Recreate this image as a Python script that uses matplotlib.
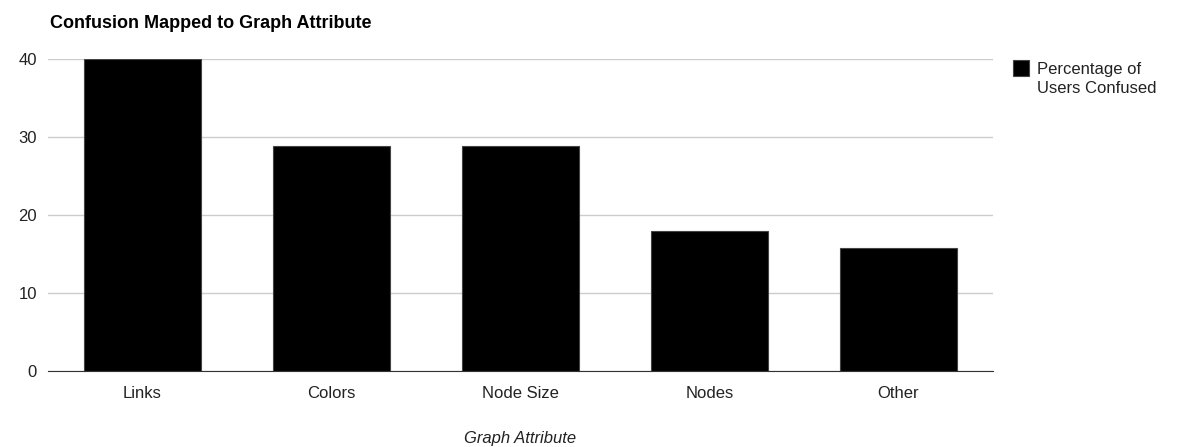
import matplotlib.pyplot as plt
from matplotlib.patches import Rectangle
import numpy as np

plt.rcParams['font.family'] = ['Liberation Sans', 'DejaVu Sans']

# data
categories = ['Links', 'Colors', 'Node Size', 'Nodes', 'Other']
confused = [40, 28.8, 28.8, 17.9, 15.8]
yticks = [0, 10, 20, 30, 40]
series_name = 'Percentage of\nUsers Confused'

W, H = 1179, 447
fig = plt.figure(figsize=(W/100, H/100), dpi=100)
ax = fig.add_axes([48/W, 1-371/H, (993-48)/W, (371-59)/H])

x = np.arange(len(categories))
ax.bar(x, confused, width=0.614, color='black', edgecolor='#444444', linewidth=0.8, zorder=3)

ax.set_xlim(-0.5, len(categories)-0.5)
ax.set_ylim(0, 40)
ax.set_yticks(yticks)
ax.set_xticks(x)
ax.set_xticklabels(categories)
for s in ['top', 'right', 'left']:
    ax.spines[s].set_visible(False)
ax.spines['bottom'].set_color('#333333')
ax.spines['bottom'].set_zorder(4)
ax.grid(axis='y', color='#cccccc', linewidth=1, zorder=0)
ax.tick_params(axis='both', length=0, labelsize=12, labelcolor='#222222')
ax.tick_params(axis='y', pad=8)
ax.tick_params(axis='x', pad=10.5)

ax.set_xlabel('Graph Attribute', fontsize=12, style='italic', color='#222222', labelpad=22)

fig.text(50/W, 1-23/H, 'Confusion Mapped to Graph Attribute', fontsize=13,
         fontweight='bold', va='center', ha='left', color='black')

# legend: square + two-line label
fig.add_artist(Rectangle((1013/W, 1-76/H), 16/W, 16/H, transform=fig.transFigure,
                         facecolor='black', edgecolor='#444444', linewidth=0.8))
fig.text(1037/W, 1-62/H, series_name, fontsize=12, va='top', ha='left',
         color='#222222', linespacing=1.35)

fig.savefig('out.png', dpi=100)
